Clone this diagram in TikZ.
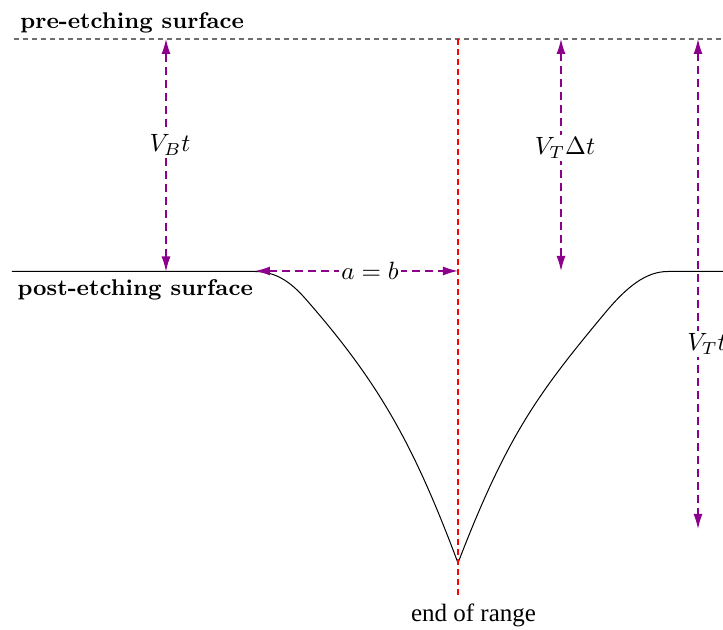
\documentclass[tikz,border=0pt]{standalone}
\usepackage{fontspec}
\newfontfamily\timesfont{Liberation Serif}
\usetikzlibrary{arrows.meta}
\definecolor{arrpurple}{RGB}{140,0,140}
\definecolor{topgray}{RGB}{110,110,110}
\tikzset{
  dimarrow/.style={draw=arrpurple, color=arrpurple, dash pattern=on 3.2pt off 2pt, line width=0.5pt,
    {Latex[length=6pt,width=3.6pt]}-{Latex[length=6pt,width=3.6pt]}},
  dimlabel/.style={fill=white, inner sep=1pt, font=\fontsize{10}{12}\selectfont},
  surflabel/.style={inner sep=0pt, anchor=base west, font=\fontsize{9.1}{11}\selectfont\bfseries},
  rangeline/.style={draw=red, color=red, dash pattern=on 2.4pt off 1.6pt, line width=0.5pt},
  preline/.style={draw=topgray, dash pattern=on 2pt off 1.6pt, line width=0.45pt},
  profile/.style={draw=black, line width=0.4pt, line join=miter}
}
\begin{document}
\begin{tikzpicture}[x=0.4pt, y=-0.4pt]
\useasboundingbox (0,0) rectangle (723,630);
% pre-etching surface
\coordinate (preL) at (14,39);
\coordinate (preR) at (730,39);
\draw[preline] (preL) -- (preR);
\node[surflabel] (pretext) at (20,28.5) {pre-etching surface};
% post-etching surface profile
\coordinate (postL) at (12,271.5);
\coordinate (postR) at (730,271.5);
\coordinate (tip) at (458,563);
\coordinate (joinL) at (310,304);
\coordinate (joinR) at (605,313);
\coordinate (flatL) at (255,271.5);
\coordinate (flatR) at (668,271.5);
\draw[profile] (postL) -- (flatL)
  .. controls (282,271.5) and (298,290) .. (joinL)
  .. controls (381.7,386.5) and (415.6,449.8) .. (tip)
  .. controls (507.1,435.3) and (538.6,392.7) .. (joinR)
  .. controls (627,286.6) and (646,271.5) .. (flatR) -- (postR);
\node[surflabel] (posttext) at (17,295.5) {post-etching surface};
% end of range
\coordinate (rangeTop) at (458,39);
\coordinate (rangeBot) at (458,598);
\draw[rangeline] (rangeTop) -- (rangeBot);
\node[inner sep=0pt, anchor=base, font=\fontsize{10}{12}\selectfont\timesfont] (rangetext) at (473.5,621.5) {end of range};
% V_B t
\coordinate (vbTop) at (166,39);
\coordinate (vbBot) at (166,271.5);
\draw[dimarrow] (vbBot) -- (vbTop);
\node[dimlabel] (vblabel) at (170,145) {$V_Bt$};
% a = b
\coordinate (abL) at (255,271);
\coordinate (abR) at (458,271);
\draw[dimarrow, line width=0.6pt] (abL) -- (abR);
\node[dimlabel] (ablabel) at (370,271) {$a=b$};
% V_T Delta t
\coordinate (vdTop) at (561,39);
\coordinate (vdBot) at (561,271);
\draw[dimarrow] (vdTop) -- (vdBot);
\node[dimlabel] (vdlabel) at (565,148) {$V_T\Delta t$};
% V_T t
\coordinate (vtTop) at (698,39);
\coordinate (vtBot) at (698,529);
\draw[dimarrow] (vtTop) -- (vtBot);
\node[dimlabel] (vtlabel) at (707,344) {$V_Tt$};
\end{tikzpicture}
\end{document}
